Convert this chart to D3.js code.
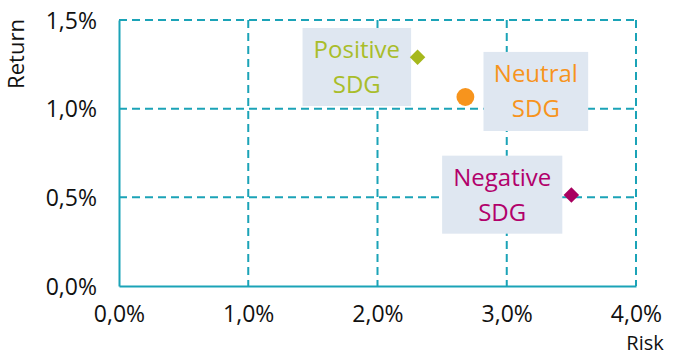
<!DOCTYPE html>
<html><head><meta charset="utf-8">
<script src="https://cdn.jsdelivr.net/npm/d3@7"></script>
<style>body{margin:0;background:#fff}svg{display:block}</style>
</head><body>
<svg id="c" width="676" height="358"></svg>
<script>
const categories = ["Positive SDG", "Neutral SDG", "Negative SDG"];
const riskValues = [2.31, 2.68, 3.50];
const returnValues = [1.29, 1.066, 0.513];
const xTicks = [0, 1, 2, 3, 4];
const yTicks = [0, 0.5, 1.0, 1.5];

const colors = ["#a6b81c", "#f7941d", "#a8005f"];
const textColors = ["#a9bd2a", "#f7941d", "#b2006b"];
const labelBoxes = [
  {x0:1.42, x1:2.26, y0:1.455, y1:1.015, lines:["Positive","SDG"]},
  {x0:2.82, x1:3.63, y0:1.32, y1:0.874, lines:["Neutral","SDG"]},
  {x0:2.5, x1:3.43, y0:0.735, y1:0.295, lines:["Negative","SDG"]}
];

const svg = d3.select("#c");
const font = "'Open Sans', 'Liberation Sans', sans-serif";
const grid = "#1ba3b7";
const x = d3.scaleLinear().domain([0,4]).range([119,636]);
const y = d3.scaleLinear().domain([0,1.5]).range([286,20]);
const fmt = d => d.toFixed(1).replace(".", ",") + "%";

svg.append("g").selectAll("line").data(xTicks.slice(1)).join("line")
  .attr("x1", d=>x(d)).attr("x2", d=>x(d)).attr("y1", y(1.5)).attr("y2", y(0))
  .attr("stroke", grid).attr("stroke-width", 2).attr("stroke-dasharray", "8,5");
svg.append("g").selectAll("line").data(yTicks.slice(1)).join("line")
  .attr("x1", x(0)).attr("x2", x(4)).attr("y1", d=>y(d)).attr("y2", d=>y(d))
  .attr("stroke", grid).attr("stroke-width", 2).attr("stroke-dasharray", "8,5");

const xAxis = svg.append("g").attr("transform", `translate(0,${y(0)})`)
  .call(d3.axisBottom(x).tickValues(xTicks).tickFormat(fmt).tickSize(0).tickPadding(22));
const yAxis = svg.append("g").attr("transform", `translate(${x(0)},0)`)
  .call(d3.axisLeft(y).tickValues(yTicks).tickFormat(fmt).tickSize(0).tickPadding(22));
[xAxis, yAxis].forEach(a => {
  a.select(".domain").attr("stroke", grid).attr("stroke-width", 2);
  a.selectAll("text").attr("font-family", font).attr("font-size", 23).attr("fill", "#111");
});
xAxis.selectAll("text").attr("dy", "0.6em");
yAxis.selectAll("text").attr("dy", "0.35em");

svg.append("text").attr("x", 645).attr("y", 350).attr("text-anchor", "middle")
  .attr("font-family", font).attr("font-size", 20).attr("fill", "#111").text("Risk");
svg.append("text").attr("transform", "translate(24,54) rotate(-90)").attr("text-anchor", "middle")
  .attr("font-family", font).attr("font-size", 22).attr("fill", "#111").text("Return");

labelBoxes.forEach((b, i) => {
  const g = svg.append("g");
  g.append("rect").attr("x", x(b.x0)).attr("y", y(b.y0))
    .attr("width", x(b.x1)-x(b.x0)).attr("height", y(b.y1)-y(b.y0)).attr("fill", "#dfe7f1");
  const cx = (x(b.x0)+x(b.x1))/2, cy = (y(b.y0)+y(b.y1))/2;
  b.lines.forEach((t, j) => {
    g.append("text").attr("x", cx).attr("y", cy + (j-0.5)*35).attr("dy", "0.35em")
      .attr("text-anchor", "middle").attr("font-family", font).attr("font-size", 24)
      .attr("fill", textColors[i]).text(t);
  });
});

svg.append("g").selectAll("path").data(categories).join("path")
  .attr("transform", (d,i)=>`translate(${x(riskValues[i])},${y(returnValues[i])})` + (i===1 ? "" : " rotate(45)"))
  .attr("d", (d,i)=> i===1 ? d3.symbol().type(d3.symbolCircle).size(250)() : d3.symbol().type(d3.symbolSquare).size(120)())
  .attr("fill", (d,i)=>colors[i]);
</script>
</body></html>
